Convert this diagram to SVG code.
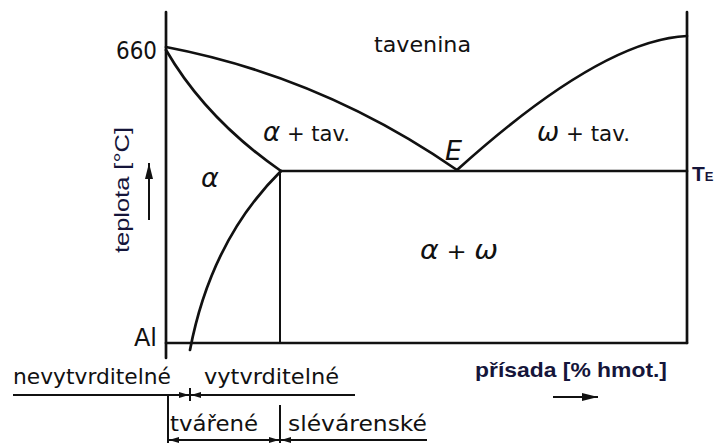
<svg xmlns="http://www.w3.org/2000/svg" width="714" height="443" viewBox="0 0 714 443">
<defs>
<style>
.ln{fill:none;stroke:#111;stroke-width:2.7;stroke-linecap:round}
.thin{fill:none;stroke:#111;stroke-width:2}
.t{font-family:"DejaVu Sans","Liberation Sans",sans-serif;fill:#111}
.g{font-family:"DejaVu Sans","Liberation Sans",sans-serif;font-style:italic;fill:#111}
.nv{font-family:"Liberation Sans","Open Sans",sans-serif;fill:#15153a}
</style>
<marker id="ah" viewBox="0 0 10 6" refX="10" refY="3" markerWidth="10" markerHeight="6" markerUnits="userSpaceOnUse" orient="auto">
<path d="M0,0 L10,3 L0,6 Z" fill="#111"/>
</marker>
<marker id="ah2" viewBox="0 0 16 8" refX="16" refY="4" markerWidth="16" markerHeight="8" markerUnits="userSpaceOnUse" orient="auto">
<path d="M0,0 L16,4 L0,8 Z" fill="#111"/>
</marker>
</defs>
<rect width="714" height="443" fill="#fff"/>

<g id="axes">
<line class="ln" x1="166" y1="12" x2="166" y2="358"/>
<line class="ln" x1="687" y1="12" x2="687" y2="343"/>
<line class="ln" x1="166" y1="343" x2="687" y2="343"/>
</g>

<g id="curves">
<path class="ln" d="M166,47 Q323,77 457,170"/>
<path class="ln" d="M166,50 Q206,119 281,171"/>
<path class="ln" d="M281,171 Q211,240 190,350"/>
<path class="ln" d="M457,170 Q601,40 687,36"/>
<line class="ln" x1="281" y1="171" x2="687" y2="171"/>
<line class="thin" x1="280" y1="171" x2="280" y2="343"/>
</g>

<g id="labels">
<text class="t" x="157" y="59" font-size="24" text-anchor="end" textLength="41" lengthAdjust="spacingAndGlyphs">660</text>
<text class="t" x="374" y="52" font-size="21" textLength="97" lengthAdjust="spacingAndGlyphs">tavenina</text>
<text class="t" x="263" y="141" font-size="21" textLength="87" lengthAdjust="spacingAndGlyphs"><tspan class="g" font-size="26">α</tspan> + tav.</text>
<text class="t" x="537" y="141" font-size="21" textLength="93" lengthAdjust="spacingAndGlyphs"><tspan class="g" font-size="26">ω</tspan> + tav.</text>
<text class="g" x="201" y="187" font-size="27">α</text>
<text class="g" x="445" y="160" font-size="27" font-weight="300">E</text>
<text class="t" x="420" y="259" font-size="22" textLength="78" lengthAdjust="spacingAndGlyphs"><tspan class="g" font-size="26">α</tspan> + <tspan class="g" font-size="26">ω</tspan></text>
<text class="t" x="157" y="346" font-size="24" text-anchor="end">Al</text>
<text class="nv" x="692" y="181" font-size="21" font-weight="bold">T<tspan font-size="13">E</tspan></text>
<text class="nv" transform="translate(129,253) rotate(-90)" font-size="20" textLength="126" lengthAdjust="spacingAndGlyphs">teplota [°C]</text>
<line x1="149" y1="220" x2="149" y2="163" stroke="#111" stroke-width="2" marker-end="url(#ah2)"/>
<text class="nv" x="475" y="377" font-size="21" font-weight="bold" textLength="192" lengthAdjust="spacingAndGlyphs">přísada [% hmot.]</text>
<line x1="553" y1="397" x2="598" y2="397" stroke="#111" stroke-width="2" marker-end="url(#ah2)"/>
</g>

<g id="ranges">
<text class="t" x="13" y="384" font-size="22" textLength="158" lengthAdjust="spacingAndGlyphs">nevytvrditelné</text>
<text class="t" x="204" y="384" font-size="22" textLength="135" lengthAdjust="spacingAndGlyphs">vytvrditelné</text>
<line class="thin" x1="13" y1="395" x2="355" y2="395"/>
<line class="thin" x1="190" y1="388" x2="190" y2="401"/>
<line x1="168" y1="395" x2="189" y2="395" stroke="#111" stroke-width="2" marker-end="url(#ah)"/>
<line x1="210" y1="395" x2="191" y2="395" stroke="#111" stroke-width="2" marker-end="url(#ah)"/>
<line class="thin" x1="168" y1="395" x2="168" y2="443"/>
<line class="thin" x1="280" y1="405" x2="280" y2="443"/>
<text class="t" x="170" y="431" font-size="22" textLength="88" lengthAdjust="spacingAndGlyphs">tvářené</text>
<text class="t" x="288" y="431" font-size="22" textLength="139" lengthAdjust="spacingAndGlyphs">slévárenské</text>
<line class="thin" x1="168" y1="440" x2="427" y2="440"/>
<line x1="188" y1="440" x2="169" y2="440" stroke="#111" stroke-width="2" marker-end="url(#ah)"/>
<line x1="260" y1="440" x2="279" y2="440" stroke="#111" stroke-width="2" marker-end="url(#ah)"/>
<line x1="300" y1="440" x2="281" y2="440" stroke="#111" stroke-width="2" marker-end="url(#ah)"/>
</g>
</svg>
